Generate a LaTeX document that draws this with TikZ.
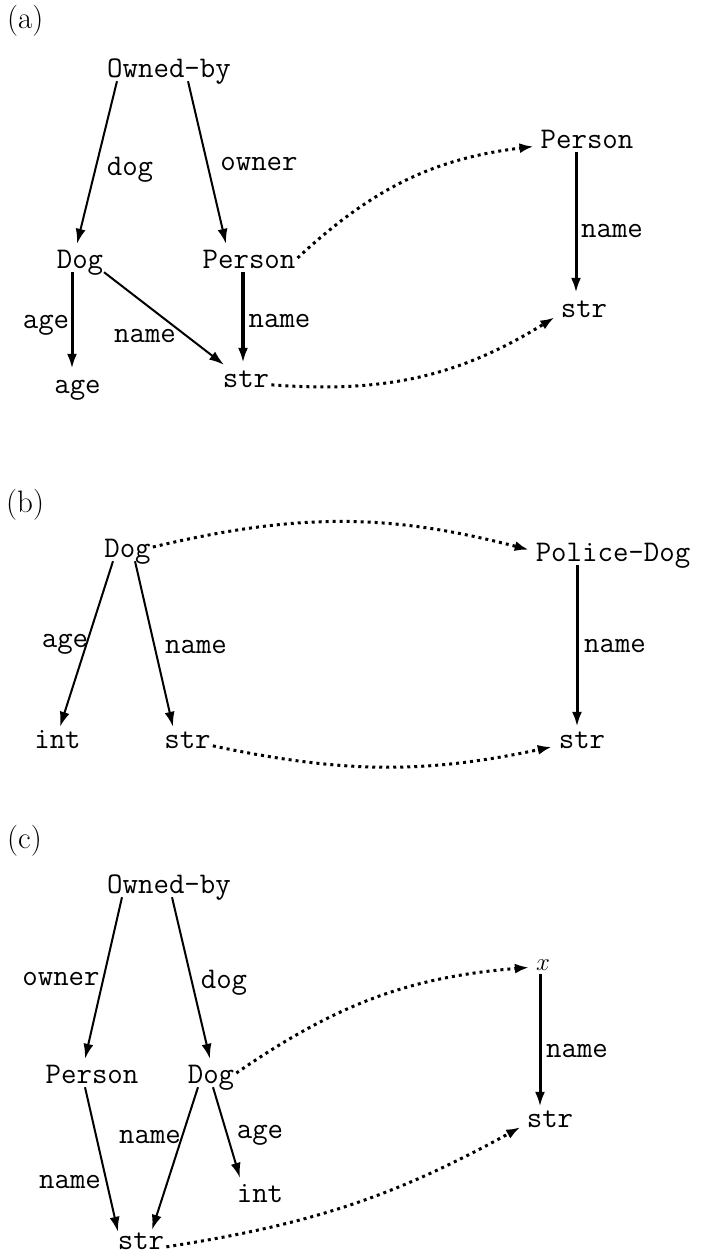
\documentclass[tikz,border=0pt]{standalone}
\usetikzlibrary{arrows.meta}
\begin{document}
\begin{tikzpicture}[x=1pt,y=-1pt,
  nd/.style={font=\fontsize{30}{36}\selectfont\ttfamily, inner sep=2pt, text height=22pt, text depth=2pt, anchor=base},
  lab/.style={font=\fontsize{30}{36}\selectfont\ttfamily, inner sep=0pt, anchor=base},
  panel/.style={font=\fontsize{31}{36}\selectfont\rmfamily, inner sep=0pt, anchor=base west},
  edge/.style={line width=2pt, -{Latex[length=15pt,width=10pt]}},
  thickedge/.style={line width=3pt, -{Latex[length=15pt,width=10pt]}},
  heavyedge/.style={line width=3.8pt, -{Latex[length=15pt,width=10pt]}},
  dotarrow/.style={line width=3pt, line cap=butt, dash pattern=on 3pt off 4pt, -{Latex[length=14pt,width=10pt]}, shorten >=5pt}
]
\useasboundingbox (0,0) rectangle (701,1258);

% ---------------- (a) ----------------
\node[panel] (pa) at (7,28) {(a)};
\node[nd] (obA) at (169,77) {Owned-by};
\node[nd] (dogA) at (80,268) {Dog};
\node[nd] (perA) at (249,268) {Person};
\node[nd] (ageA) at (77.5,393) {age};
\node[nd] (strA) at (246,387) {str};
\node[nd] (perR) at (587,148) {Person};
\node[nd] (strR) at (584,317) {str};

\draw[edge] ([xshift=-52pt]obA.south) -- ([xshift=-3pt]dogA.north);
\draw[edge] ([xshift=19pt]obA.south) -- ([xshift=-23pt]perA.north);
\draw[thickedge] ([xshift=-8pt]dogA.south) -- ([xshift=-5.5pt]ageA.north);
\draw[edge] ([xshift=24pt]dogA.south) -- ([xshift=-22pt,yshift=-2pt]strA.north);
\draw[heavyedge] ([xshift=-6pt]perA.south) -- ([xshift=-3pt]strA.north);
\draw[thickedge] ([xshift=-11pt]perR.south) -- ([xshift=-8pt]strR.north);
\draw[dotarrow] (perA.east) to[bend left=18] (perR.mid west);
\draw[dotarrow] (strA.mid east) to[bend right=18] (strR.mid west);

\node[lab] (l1) at (130,175) {dog};
\node[lab] (l2) at (259,170) {owner};
\node[lab] (l3) at (46,328) {age};
\node[lab] (l4) at (145,342) {name};
\node[lab] (l5) at (279.5,327) {name};
\node[lab] (l6) at (612,237) {name};

% ---------------- (b) ----------------
\node[panel] (pb) at (6,512) {(b)};
\node[nd] (dogB) at (127.5,557) {Dog};
\node[nd] (intB) at (57.5,748) {int};
\node[nd] (strB) at (187.5,748) {str};
\node[nd] (pdB) at (613,561) {Police-Dog};
\node[nd] (strBR) at (582,748) {str};

\draw[edge] ([xshift=-14.5pt]dogB.south) -- ([xshift=2.5pt,yshift=-3pt]intB.north);
\draw[edge] ([xshift=7.5pt]dogB.south) -- ([xshift=-14.5pt,yshift=-3pt]strB.north);
\draw[thickedge] ([xshift=-36pt]pdB.south) -- ([xshift=-5pt,yshift=-3pt]strBR.north);
\draw[dotarrow] (dogB.east) to[bend left=14] (pdB.west);
\draw[dotarrow] (strB.mid east) to[bend right=12] (strBR.mid west);

\node[lab] (l7) at (65,647) {age};
\node[lab] (l8) at (196,653) {name};
\node[lab] (l9) at (615,652) {name};

% ---------------- (c) ----------------
\node[panel] (pc) at (7,848) {(c)};
\node[nd] (obC) at (169,893) {Owned-by};
\node[nd] (perC) at (92,1083) {Person};
\node[nd] (dogC) at (211,1083) {Dog};
\node[nd] (strC) at (141,1249) {str};
\node[nd] (intC) at (260,1202) {int};
\node[nd] (xC) at (543,970) {$x$};
\node[nd] (strCR) at (550,1127) {str};

\draw[edge] ([xshift=-47pt]obC.south) -- ([xshift=-7pt]perC.north);
\draw[edge] ([xshift=3pt]obC.south) -- ([xshift=-1pt]dogC.north);
\draw[edge] ([xshift=-7pt]perC.south) -- ([xshift=-23pt,yshift=-7pt]strC.north);
\draw[edge] ([xshift=-13pt]dogC.south) -- ([xshift=11pt,yshift=-5pt]strC.north);
\draw[edge] ([xshift=2pt]dogC.south) -- ([xshift=-20pt]intC.north);
\draw[thickedge] ([xshift=-3pt]xC.south) -- ([xshift=-10pt,yshift=-4pt]strCR.north);
\draw[dotarrow] (dogC.east) to[bend left=15] ([yshift=3pt]xC.base west);
\draw[dotarrow] (strC.mid east) to[bend right=10] (strCR.mid west);

\node[lab] (l10) at (61,985) {owner};
\node[lab] (l11) at (224,988) {dog};
\node[lab] (l12) at (70,1188) {name};
\node[lab] (l13) at (150,1143) {name};
\node[lab] (l14) at (260,1138) {age};
\node[lab] (l15) at (577,1057) {name};
\end{tikzpicture}
\end{document}
